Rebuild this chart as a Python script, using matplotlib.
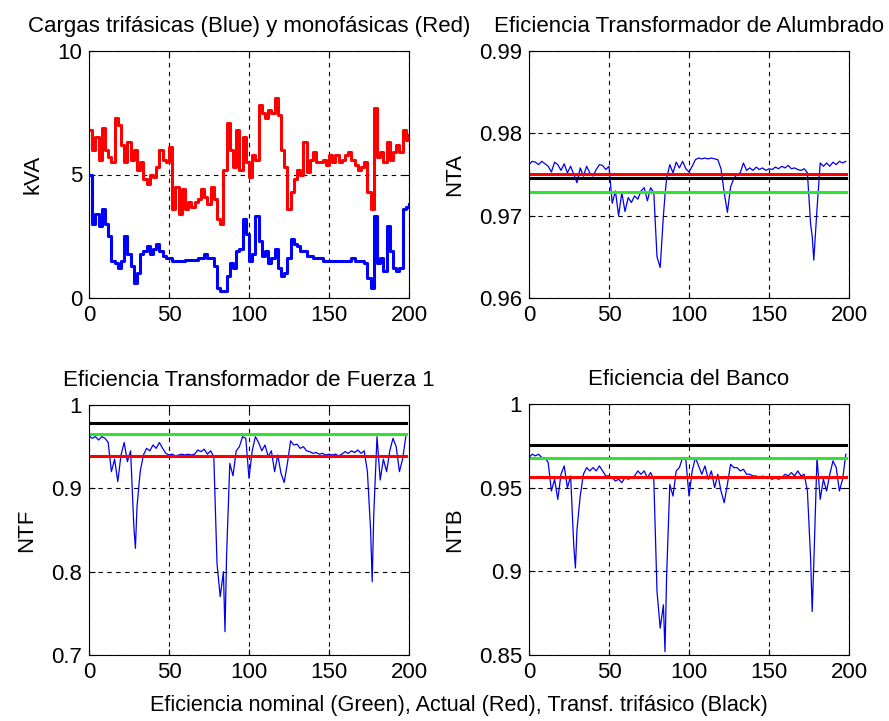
import numpy as np
import matplotlib
matplotlib.use("Agg")
import matplotlib.pyplot as plt

plt.rcParams['font.family'] = ['Liberation Sans', 'DejaVu Sans']

# Cargas (kVA), muestreadas cada 2 intervalos
t_carga = list(range(0, 201, 2))
kva_mono = [6.8, 6.0, 6.5, 5.6, 6.9, 6.0, 5.7, 5.5, 7.3, 7.0, 6.2, 5.5, 6.3, 5.6, 6.0,
            5.2, 5.5, 4.8, 4.6, 5.0, 4.9, 5.3, 6.0, 5.6, 5.5, 6.1, 3.6, 4.5, 3.4, 4.4,
            3.6, 3.9, 3.7, 3.9, 4.0, 4.4, 4.1, 3.8, 4.5, 4.0, 3.2, 3.0, 5.2, 7.1, 6.0,
            5.3, 6.8, 5.2, 6.5, 5.5, 4.9, 5.8, 5.6, 7.8, 7.5, 7.3, 7.6, 7.5, 8.1, 7.4,
            6.0, 5.3, 3.6, 4.3, 4.8, 5.2, 5.0, 6.3, 5.1, 5.6, 5.9, 5.5, 5.5, 5.6, 5.4,
            5.8, 5.5, 5.8, 5.5, 5.6, 5.8, 5.9, 5.6, 5.4, 5.2, 5.3, 5.5, 4.3, 3.6, 7.7,
            5.7, 5.9, 5.5, 6.3, 5.6, 5.9, 6.2, 5.9, 6.8, 6.4, 6.6]
kva_tri = [5.0, 3.0, 3.4, 2.9, 3.6, 3.0, 2.5, 1.5, 1.4, 1.2, 1.5, 2.5, 1.8, 1.3, 0.6,
           1.0, 1.8, 1.9, 2.1, 1.8, 2.0, 2.2, 1.9, 1.7, 1.6, 1.6, 1.5, 1.5, 1.5, 1.5,
           1.55, 1.55, 1.55, 1.55, 1.6, 1.6, 1.8, 1.6, 1.6, 1.3, 0.4, 0.3, 0.3, 0.9, 1.4,
           1.2, 1.9, 2.0, 3.2, 2.6, 1.5, 1.8, 3.3, 2.3, 1.7, 1.9, 1.4, 1.6, 2.0, 1.2,
           0.9, 1.0, 1.6, 2.4, 2.2, 2.1, 1.9, 1.9, 1.7, 1.7, 1.6, 1.6, 1.6, 1.5, 1.5,
           1.5, 1.5, 1.5, 1.5, 1.5, 1.5, 1.5, 1.6, 1.5, 1.5, 1.5, 1.4, 0.8, 0.4, 3.3,
           1.4, 1.6, 1.1, 2.9, 1.9, 1.2, 1.1, 1.2, 3.6, 3.7, 3.8]

# Eficiencias
t_ef = ([0, 2, 4, 6, 8, 10, 12, 14, 16, 18, 20, 22, 24, 26, 28, 29]
        + [30, 32, 34, 36, 38, 40, 42, 44, 46, 48, 50, 52, 54, 56, 58, 60, 62, 64,
           66, 68, 70, 72, 74, 76, 78, 80, 82, 84, 85]
        + [86, 88, 90, 92, 94, 96, 98, 100, 102, 104, 106, 108, 110, 112, 114, 116,
           118, 120, 122, 124, 126, 128, 130, 132, 134, 136, 138, 140, 142, 144, 146,
           148, 150, 152, 154, 156, 158, 160, 162, 164, 166, 168, 170, 172, 174, 176, 177]
        + [178, 180, 182, 184, 186, 188, 190, 192, 194, 196, 198])

nta = ([0.9762, 0.9766, 0.9765, 0.9762, 0.9766, 0.9763, 0.9760, 0.9753, 0.9765, 0.9762,
        0.9755, 0.9763, 0.9752, 0.9760, 0.9750, 0.9745]
       + [0.9740, 0.9758, 0.9748, 0.9760, 0.9752, 0.9748, 0.9756, 0.9762, 0.9761, 0.9756,
          0.9760, 0.9715, 0.9730, 0.9700, 0.9728, 0.9705, 0.9722, 0.9716, 0.9724, 0.9720,
          0.9730, 0.9734, 0.9718, 0.9734, 0.9728, 0.9650, 0.9637, 0.9700, 0.9725]
       + [0.9745, 0.9762, 0.9752, 0.9765, 0.9758, 0.9766, 0.9757, 0.9753, 0.9760, 0.9768,
          0.9770, 0.9769, 0.9770, 0.9769, 0.9770, 0.9769, 0.9768, 0.9757, 0.9728, 0.9704,
          0.9735, 0.9745, 0.9750, 0.9752, 0.9764, 0.9755, 0.9758, 0.9755, 0.9759, 0.9756,
          0.9758, 0.9755, 0.9757, 0.9756, 0.9759, 0.9757, 0.9760, 0.9758, 0.9761, 0.9757,
          0.9758, 0.9756, 0.9755, 0.9757, 0.9752, 0.9690, 0.9675]
       + [0.9646, 0.9708, 0.9764, 0.9760, 0.9764, 0.9760, 0.9765, 0.9762, 0.9766, 0.9764,
          0.9766])

ntf = ([0.963, 0.960, 0.962, 0.958, 0.962, 0.960, 0.955, 0.920, 0.935, 0.908, 0.940,
        0.955, 0.932, 0.945, 0.855, 0.828]
       + [0.878, 0.920, 0.940, 0.948, 0.945, 0.952, 0.948, 0.955, 0.948, 0.942, 0.940,
          0.941, 0.939, 0.940, 0.941, 0.940, 0.941, 0.940, 0.941, 0.946, 0.944, 0.947,
          0.941, 0.945, 0.938, 0.810, 0.770, 0.800, 0.728]
       + [0.820, 0.930, 0.915, 0.945, 0.950, 0.962, 0.960, 0.912, 0.945, 0.962, 0.955,
          0.945, 0.952, 0.938, 0.945, 0.920, 0.940, 0.918, 0.907, 0.930, 0.957, 0.952,
          0.953, 0.948, 0.950, 0.945, 0.944, 0.942, 0.943, 0.941, 0.942, 0.940, 0.941,
          0.940, 0.941, 0.939, 0.941, 0.944, 0.942, 0.945, 0.943, 0.946, 0.942, 0.945,
          0.920, 0.850, 0.788]
       + [0.870, 0.962, 0.910, 0.935, 0.920, 0.945, 0.960, 0.950, 0.920, 0.935, 0.962])

ntb = ([0.968, 0.970, 0.969, 0.970, 0.968, 0.968, 0.965, 0.948, 0.955, 0.943, 0.958,
        0.963, 0.950, 0.957, 0.915, 0.902]
       + [0.925, 0.945, 0.958, 0.962, 0.960, 0.962, 0.960, 0.963, 0.960, 0.957, 0.957,
          0.956, 0.954, 0.955, 0.953, 0.956, 0.955, 0.956, 0.957, 0.960, 0.958, 0.960,
          0.956, 0.959, 0.955, 0.888, 0.866, 0.880, 0.852]
       + [0.897, 0.952, 0.945, 0.960, 0.962, 0.968, 0.967, 0.945, 0.960, 0.968, 0.963,
          0.958, 0.963, 0.955, 0.960, 0.950, 0.958, 0.948, 0.941, 0.952, 0.964, 0.962,
          0.962, 0.960, 0.961, 0.958, 0.958, 0.957, 0.957, 0.956, 0.957, 0.956, 0.956,
          0.955, 0.956, 0.955, 0.956, 0.958, 0.957, 0.959, 0.957, 0.960, 0.957, 0.958,
          0.948, 0.908, 0.876]
       + [0.905, 0.968, 0.943, 0.955, 0.948, 0.958, 0.966, 0.962, 0.948, 0.955, 0.970])

# Niveles de referencia: nominal (verde), actual (rojo), trifásico (negro)
ref_nta = {'g': 0.9729, 'r': 0.9751, 'k': 0.9746}
ref_ntf = {'g': 0.9652, 'r': 0.9392, 'k': 0.9780}
ref_ntb = {'g': 0.9679, 'r': 0.9566, 'k': 0.9755}
colores = {'g': '#2ee62e', 'r': '#ff0000', 'k': '#000000'}

fig = plt.figure(figsize=(8.89, 7.21), dpi=100)
W, H = 889, 721
pos = [(89, 51, 320, 247), (529, 51, 320, 247), (89, 405, 320, 250), (529, 404, 320, 251)]
axs = [fig.add_axes([x / W, 1 - (y + h) / H, w / W, h / H]) for x, y, w, h in pos]


def estilo(ax, ylim, yticks):
    ax.set_xlim(0, 200)
    ax.set_ylim(*ylim)
    ax.set_xticks([0, 50, 100, 150, 200])
    ax.set_yticks(yticks)
    ax.set_yticklabels([f"{v:g}" for v in yticks])
    ax.grid(True, color='black', linestyle=(0, (4, 4)), linewidth=0.8)
    ax.tick_params(direction='in', length=4, labelsize=16, pad=5, top=True, right=True,
                   labeltop=False, labelright=False)
    for s in ax.spines.values():
        s.set_linewidth(0.8)


ax = axs[0]
ax.plot(t_carga, kva_mono, color='red', linewidth=2.2, drawstyle='steps-post')
ax.plot(t_carga, kva_tri, color='blue', linewidth=2.2, drawstyle='steps-post')
estilo(ax, (0, 10), [0, 5, 10])
ax.set_ylabel('kVA', fontsize=16, labelpad=10)
ax.set_title('Cargas trifásicas (Blue) y monofásicas (Red)', fontsize=16, pad=14)

paneles = [
    (axs[1], nta, ref_nta, (0.96, 0.99), [0.96, 0.97, 0.98, 0.99], 'NTA',
     'Eficiencia Transformador de Alumbrado'),
    (axs[2], ntf, ref_ntf, (0.7, 1.0), [0.7, 0.8, 0.9, 1.0], 'NTF',
     'Eficiencia Transformador de Fuerza 1'),
    (axs[3], ntb, ref_ntb, (0.85, 1.0), [0.85, 0.9, 0.95, 1.0], 'NTB',
     'Eficiencia del Banco'),
]
for ax, serie, ref, ylim, yt, lab, tit in paneles:
    ax.plot(t_ef, serie, color='#0000ee', linewidth=0.9)
    for c in ['g', 'k', 'r']:
        ax.plot([t_ef[0], t_ef[-1]], [ref[c], ref[c]], color=colores[c], linewidth=2.2)
    estilo(ax, ylim, yt)
    ax.set_ylabel(lab, fontsize=16, labelpad=10)
    ax.set_title(tit, fontsize=16, pad=14)

fig.text(459 / W, 1 - 705 / H,
         'Eficiencia nominal (Green), Actual (Red), Transf. trifásico (Black)',
         ha='center', va='center', fontsize=15.6)

fig.savefig('out.png', dpi=100, facecolor='white')
